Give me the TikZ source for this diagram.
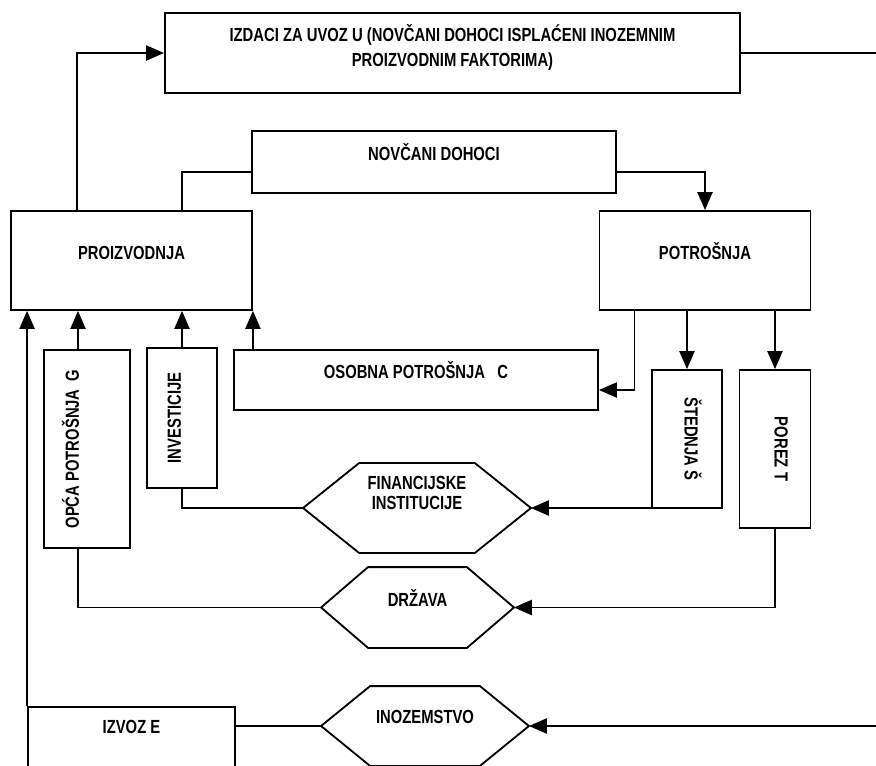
\documentclass[tikz,border=0pt]{standalone}
\usepackage{fontspec}
\setmainfont{Liberation Sans}[FakeStretch=0.78]
\usetikzlibrary{arrows.meta}
\tikzset{
	box/.style={draw, inner sep=2pt, font=\fontsize{13.5}{16}\selectfont\bfseries, text height=0.34cm, text depth=0.4cm},
	hexbox/.style={box, draw=none},
	flow/.style={-{Triangle[length=0.45cm, width=0.38cm]}},
	every path/.style={line width=1.3pt}
}
% hexagon outline round a plain node, #2 = length of the slanted part
\newcommand{\hexframe}[2]{%
	\draw (#1.west) -- ([xshift=#2]#1.north west) -- ([xshift=-#2]#1.north east) -- (#1.east)
		-- ([xshift=-#2]#1.south east) -- ([xshift=#2]#1.south west) -- cycle;}

\begin{document}
\begin{tikzpicture}[x=0.025cm, y=-0.025cm]
	\useasboundingbox (0, 0) rectangle (876, 765);
	\coordinate (rim) at (876, 0);

	\node[box, minimum width=14.375cm, minimum height=2cm, align=center, text height=0.79cm, text depth=0.1cm] (izdaci) at (452.5, 53) {IZDACI ZA UVOZ U (NOVČANI DOHOCI ISPLAĆENI INOZEMNIM\\[1.7pt]PROIZVODNIM FAKTORIMA)};
	\node[box, minimum width=9.1cm, minimum height=1.55cm]                (novcani) at (434, 162)     {NOVČANI DOHOCI};
	\node[box, minimum width=6.025cm, minimum height=2.475cm]             (proiz)   at (131.5, 260.5) {PROIZVODNJA};
	\node[box, minimum width=5.275cm, minimum height=2.475cm]             (potr)    at (705, 260.5)   {POTROŠNJA};
	\node[box, minimum width=9.1cm, minimum height=1.5cm]                 (osobna)  at (416, 380)     {OSOBNA POTROŠNJA~~~C};
	\node[box, rotate=90, minimum width=4.95cm, minimum height=2.15cm, text depth=0.75cm] (opca) at (87, 449) {OPĆA POTROŠNJA~~G};
	\node[box, rotate=90, minimum width=3.5cm, minimum height=1.75cm]     (inv)     at (182, 418)     {INVESTICIJE};
	\node[box, rotate=-90, minimum width=3.45cm, minimum height=1.75cm, text depth=0.225cm] (sted) at (687, 439) {ŠTEDNJA Š};
	\node[box, rotate=-90, minimum width=3.95cm, minimum height=1.775cm, text depth=0.325cm] (porez) at (775, 449) {POREZ T};
	\node[hexbox, minimum width=5.65cm, minimum height=2.2cm, align=center, text height=0.19cm, text depth=0.1cm] (fin) at (417, 508) {FINANCIJSKE\\[-1.8pt]INSTITUCIJE};
	\node[hexbox, minimum width=4.775cm, minimum height=1.975cm]          (drzava)  at (417.5, 607.5) {DRŽAVA};
	\node[hexbox, minimum width=5.15cm, minimum height=1.95cm, text depth=0.45cm] (inoz) at (425, 726) {INOZEMSTVO};
	\node[box, minimum width=5.175cm, minimum height=2cm, text depth=1cm] (izvoz)   at (131.5, 747)   {IZVOZ E};

	\hexframe{fin}{1.4cm}
	\hexframe{drzava}{1.175cm}
	\hexframe{inoz}{1.225cm}

	% money flows
	\draw[flow] ([xshift=1.675cm]proiz.north west) |- (izdaci.west);
	\draw (izdaci.east) -- (izdaci.east -| rim);
	\draw ([yshift=-0.25cm]novcani.west) -| ([xshift=4.3cm]proiz.north west);
	\draw[flow] ([yshift=-0.25cm]novcani.east) -| (potr.north);

	% spending back to production
	\draw[flow] (izvoz.north west) -- (izvoz.north west |- proiz.south);
	\draw[flow] ([xshift=-0.225cm]opca.east) -- ([xshift=-0.225cm]opca.east |- proiz.south);
	\draw[flow] (inv.east) -- (inv.east |- proiz.south);
	\draw[flow] (osobna.north -| proiz.south east) -- (proiz.south east);

	% use of income
	\draw[flow] ([xshift=0.9cm]potr.south west) |- ([yshift=-0.25cm]osobna.east);
	\draw[flow] (sted.west |- potr.south) -- (sted.west);
	\draw[flow] (porez.west |- potr.south) -- (porez.west);
	\draw[flow] (sted.south |- fin.east) -- (fin.east);
	\draw (inv.west) |- (fin.west);
	\draw[flow] (porez.east) |- (drzava.east);
	\draw ([xshift=-0.225cm]opca.west) |- (drzava.west);
	\draw[flow] (inoz.east -| rim) -- (inoz.east);
	\draw (inoz.west) -- (inoz.west -| izvoz.east);
\end{tikzpicture}
\end{document}
